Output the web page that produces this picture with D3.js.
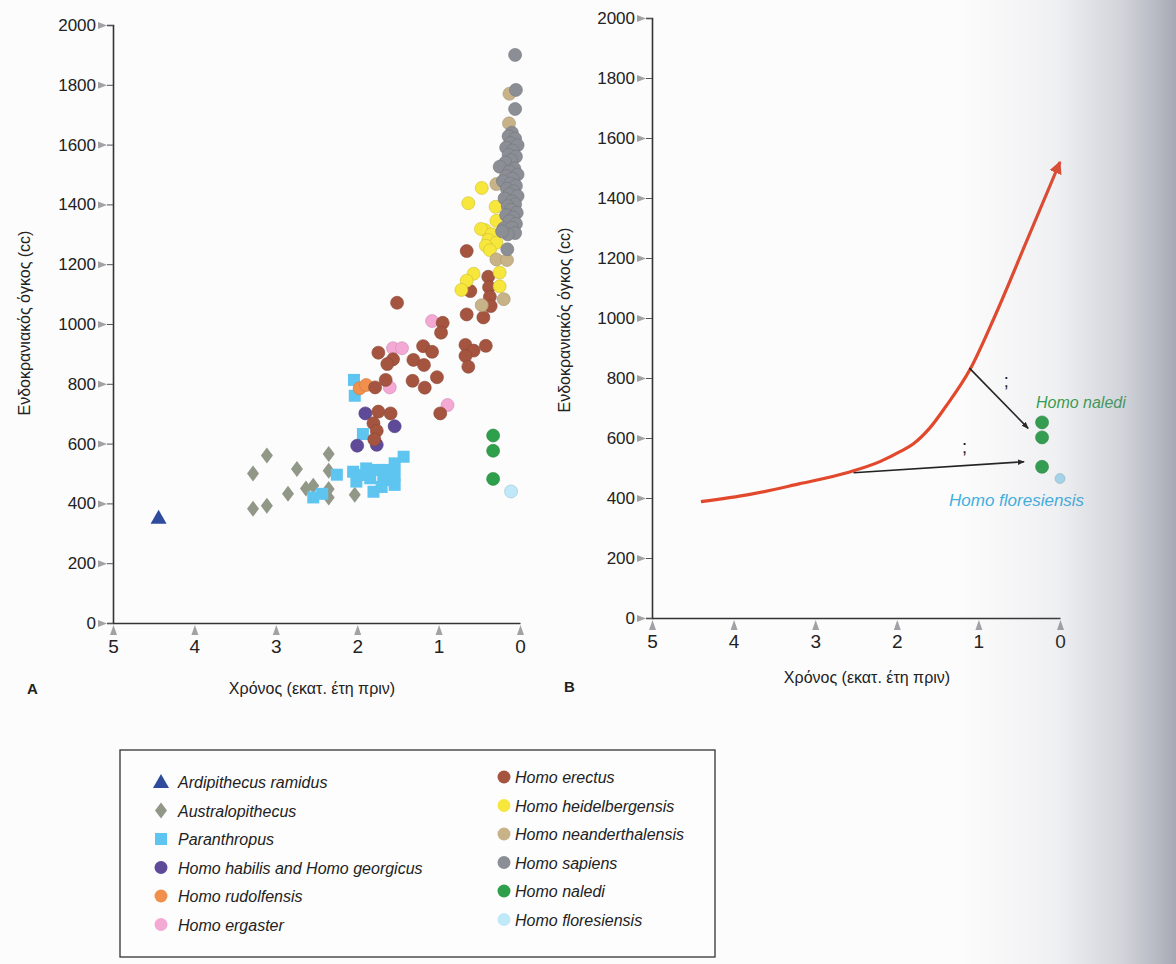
<!DOCTYPE html>
<html>
<head>
<meta charset="utf-8">
<script src="https://cdn.jsdelivr.net/npm/d3@7"></script>
<style>
body { margin: 0; background: #fcfcfc; }
svg { display: block; font-family: "Liberation Sans", Arial, sans-serif; }
</style>
</head>
<body>
<svg id="chart" width="1176" height="964"></svg>
<script>
// data : [million years ago, endocranial volume (cc)]
var ardipithecus = [[4.44, 352]];
var australopithecus = [[3.28, 500], [3.11, 560], [2.74, 515], [2.85, 432], [3.28, 382], [3.11, 392],
	[2.63, 450], [2.54, 459], [2.35, 565], [2.35, 509], [2.35, 448], [2.35, 420], [2.03, 429]];
var paranthropus = [[2.04, 813], [2.03, 760], [1.93, 632], [2.25, 496], [2.54, 420], [2.43, 432],
	[2.05, 506], [1.89, 517], [1.76, 512], [1.64, 512], [2.01, 473], [1.84, 484], [1.68, 478],
	[1.54, 495], [1.54, 462], [1.80, 439], [1.43, 556], [1.54, 534], [1.95, 495], [1.70, 455]];
var habilis = [[1.90, 701], [1.54, 658], [2.00, 593], [1.76, 596]];
var rudolfensis = [[1.97, 785], [1.89, 796]];
var ergaster = [[1.08, 1010], [1.56, 919], [1.45, 919], [1.60, 788], [0.89, 729]];
var erectus = [[0.655, 1244], [0.39, 1158], [0.38, 1123], [0.37, 1091], [0.36, 1060], [0.61, 1110],
	[0.655, 1032], [0.45, 1022], [0.95, 1004], [0.97, 971], [1.51, 1071], [1.74, 904], [1.19, 926],
	[1.08, 907], [1.56, 882], [1.63, 866], [1.31, 880], [1.18, 863], [0.67, 930], [0.57, 911],
	[0.42, 927], [0.67, 893], [0.635, 857], [1.65, 813], [1.78, 788], [1.32, 810], [1.02, 822],
	[1.17, 787], [0.98, 701], [1.74, 707], [1.59, 701], [1.80, 668], [1.76, 643], [1.79, 614]];
var heidelbergensis = [[0.47, 1455], [0.635, 1404], [0.30, 1392], [0.29, 1345], [0.43, 1314],
	[0.48, 1318], [0.35, 1300], [0.39, 1281], [0.29, 1272], [0.42, 1262], [0.37, 1247], [0.57, 1168],
	[0.655, 1145], [0.72, 1114], [0.25, 1172], [0.25, 1126]];
var neanderthalensis = [[0.13, 1770], [0.135, 1671], [0.29, 1468], [0.29, 1216], [0.16, 1214],
	[0.20, 1083], [0.47, 1063]];
var sapiens = [[0.06, 1900], [0.05, 1783], [0.06, 1719], [0.10, 1640], [0.14, 1628], [0.06, 1620],
	[0.12, 1605], [0.03, 1598], [0.17, 1590], [0.09, 1580], [0.14, 1566], [0.05, 1560], [0.11, 1548],
	[0.18, 1540], [0.25, 1526], [0.07, 1520], [0.13, 1510], [0.03, 1500], [0.17, 1495], [0.09, 1486],
	[0.21, 1478], [0.12, 1470], [0.05, 1462], [0.16, 1452], [0.08, 1444], [0.13, 1434], [0.03, 1428],
	[0.19, 1420], [0.10, 1410], [0.06, 1400], [0.15, 1394], [0.11, 1382], [0.04, 1372], [0.17, 1364],
	[0.08, 1356], [0.13, 1344], [0.05, 1335], [0.20, 1320], [0.10, 1322], [0.06, 1304], [0.15, 1300],
	[0.22, 1310], [0.156, 1250]];
var naledi = [[0.33, 627], [0.33, 576], [0.33, 482]];
var floresiensis = [[0.11, 440]];

// panel B
var trendX = [4.4, 3.8, 3.2, 2.6, 2.2, 1.95, 1.8, 1.6, 1.4, 1.1, 0.8, 0.4, 0.0];
var trendY = [388, 412, 447, 485, 522, 556, 580, 632, 705, 830, 1005, 1262, 1520];
var nalediB = [[0.22, 652], [0.22, 602], [0.22, 504]];
var floresiensisB = [[0.0, 465]];

var xTicks = [5, 4, 3, 2, 1, 0];
var yTicks = [0, 200, 400, 600, 800, 1000, 1200, 1400, 1600, 1800, 2000];
var xTitle = 'Χρόνος (εκατ. έτη πριν)';
var yTitle = 'Ενδοκρανιακός όγκος (cc)';

var species = [
	{name: 'Ardipithecus ramidus', data: ardipithecus, shape: 'triangle', color: '#2f4c9c'},
	{name: 'Australopithecus', data: australopithecus, shape: 'diamond', color: '#919887'},
	{name: 'Paranthropus', data: paranthropus, shape: 'square', color: '#5ec4f0'},
	{name: 'Homo habilis and Homo georgicus', data: habilis, shape: 'circle', color: '#5e4a98'},
	{name: 'Homo rudolfensis', data: rudolfensis, shape: 'circle', color: '#f0904c'},
	{name: 'Homo ergaster', data: ergaster, shape: 'circle', color: '#f4a8d4'},
	{name: 'Homo erectus', data: erectus, shape: 'circle', color: '#a5553f'},
	{name: 'Homo heidelbergensis', data: heidelbergensis, shape: 'circle', color: '#f7e63c'},
	{name: 'Homo neanderthalensis', data: neanderthalensis, shape: 'circle', color: '#c8b389'},
	{name: 'Homo sapiens', data: sapiens, shape: 'circle', color: '#8c8e96'},
	{name: 'Homo naledi', data: naledi, shape: 'circle', color: '#2e9f4a'},
	{name: 'Homo floresiensis', data: floresiensis, shape: 'circle', color: '#bfe8f8'}
];

const svg = d3.select('#chart');

var defs = svg.append('defs');
defs.append('marker').attr('id', 'arrow-red')
	.attr('viewBox', '0 0 10 10').attr('refX', 9).attr('refY', 5)
	.attr('markerWidth', 4).attr('markerHeight', 4).attr('orient', 'auto')
	.append('path').attr('d', 'M0,0 L10,5 L0,10 Z').attr('fill', '#e2482c');
defs.append('marker').attr('id', 'arrow-black')
	.attr('viewBox', '0 0 10 10').attr('refX', 9).attr('refY', 5)
	.attr('markerWidth', 7).attr('markerHeight', 7).attr('markerUnits', 'userSpaceOnUse')
	.attr('orient', 'auto')
	.append('path').attr('d', 'M0,1 L10,5 L0,9 Z').attr('fill', '#222');
var shade = defs.append('linearGradient').attr('id', 'shade')
	.attr('gradientUnits', 'userSpaceOnUse').attr('x1', 960).attr('x2', 1176).attr('y1', 0).attr('y2', 0);
shade.append('stop').attr('offset', 0).attr('stop-color', '#7d8296').attr('stop-opacity', 0);
shade.append('stop').attr('offset', 0.45).attr('stop-color', '#7d8296').attr('stop-opacity', 0.1);
shade.append('stop').attr('offset', 0.75).attr('stop-color', '#7d8296').attr('stop-opacity', 0.33);
shade.append('stop').attr('offset', 1).attr('stop-color', '#727789').attr('stop-opacity', 0.62);

// axes with little grey triangle ticks
function drawAxes(x, y, titleX, titleY, letterPos, letter) {
	const yAxis = svg.append('g')
		.attr('transform', `translate(${x.range()[0]}, 0)`)
		.call(d3.axisLeft(y).tickValues(yTicks).tickSize(6).tickPadding(11).tickFormat(d3.format('d')));
	yAxis.select('.domain').attr('stroke', '#333').attr('stroke-width', 1.6);
	yAxis.selectAll('.tick line').attr('stroke', '#555');
	yAxis.selectAll('.tick').append('path')
		.attr('d', 'M-15,-3.5 L-6,0 L-15,3.5 Z').attr('fill', '#a2a2a6');
	yAxis.selectAll('text').attr('font-size', 17).attr('fill', '#222');

	const xAxis = svg.append('g')
		.attr('transform', `translate(0, ${y.range()[0]})`)
		.call(d3.axisBottom(x).tickValues(xTicks).tickSize(0).tickPadding(17).tickFormat(d3.format('d')));
	xAxis.select('.domain').attr('stroke', '#333').attr('stroke-width', 1.6);
	xAxis.selectAll('.tick').append('path')
		.attr('d', 'M-3.5,12 L0,2 L3.5,12 Z').attr('fill', '#a2a2a6');
	xAxis.selectAll('text').attr('font-size', 19).attr('fill', '#222');

	svg.append('text')
		.attr('x', titleX[0]).attr('y', titleX[1])
		.attr('text-anchor', 'middle').attr('font-size', 16).attr('fill', '#222')
		.text(xTitle);
	svg.append('text')
		.attr('transform', `translate(${titleY[0]}, ${titleY[1]}) rotate(-90)`)
		.attr('text-anchor', 'middle').attr('font-size', 16).attr('fill', '#222')
		.text(yTitle);
	svg.append('text')
		.attr('x', letterPos[0]).attr('y', letterPos[1])
		.attr('font-size', 15).attr('font-weight', 'bold').attr('fill', '#222')
		.text(letter);
}

function symbolPath(shape) {
	if (shape == 'triangle') return 'M0,-8 L8,6 L-8,6 Z';
	if (shape == 'diamond') return 'M0,-8 L6,0 L0,8 L-6,0 Z';
	if (shape == 'square') return 'M-6,-6 L6,-6 L6,6 L-6,6 Z';
	return null;
}

function drawMarks(g, data, s, x, y, r) {
	if (s.shape == 'circle') {
		g.selectAll(null).data(data).enter().append('circle')
			.attr('cx', d => x(d[0]))
			.attr('cy', d => y(d[1]))
			.attr('r', r)
			.attr('fill', s.color)
			.attr('stroke', d3.color(s.color).darker(0.5))
			.attr('stroke-width', 0.6);
	} else {
		g.selectAll(null).data(data).enter().append('path')
			.attr('transform', d => `translate(${x(d[0])}, ${y(d[1])})`)
			.attr('d', symbolPath(s.shape))
			.attr('fill', s.color);
	}
}

// ---------- panel A
const xA = d3.scaleLinear().domain([5, 0]).range([113, 520]);
const yA = d3.scaleLinear().domain([0, 2000]).range([623, 25]);
drawAxes(xA, yA, [312, 694], [30, 323], [27, 694], 'A');

var plotA = svg.append('g');
species.forEach((s) => {
	drawMarks(plotA, s.data, s, xA, yA, 6.5);
});

// ---------- panel B
const xB = d3.scaleLinear().domain([5, 0]).range([652, 1060]);
const yB = d3.scaleLinear().domain([0, 2000]).range([618, 18]);
drawAxes(xB, yB, [867, 683], [570, 320], [564, 692], 'B');

const trend = trendX.map((d, i) => [d, trendY[i]]);
svg.append('path')
	.datum(trend)
	.attr('d', d3.line().x(d => xB(d[0])).y(d => yB(d[1])).curve(d3.curveMonotoneX))
	.attr('fill', 'none')
	.attr('stroke', '#e2482c')
	.attr('stroke-width', 3.2)
	.attr('marker-end', 'url(#arrow-red)');

// question arrows towards naledi / floresiensis
var arrows = [[[1.11, 833], [0.39, 632]], [[2.53, 484], [0.44, 521]]];
svg.selectAll(null).data(arrows).enter().append('line')
	.attr('x1', d => xB(d[0][0])).attr('y1', d => yB(d[0][1]))
	.attr('x2', d => xB(d[1][0])).attr('y2', d => yB(d[1][1]))
	.attr('stroke', '#222').attr('stroke-width', 1.6)
	.attr('marker-end', 'url(#arrow-black)');
var questions = [[0.69, 770], [1.2, 550]];
svg.selectAll(null).data(questions).enter().append('text')
	.attr('x', d => xB(d[0])).attr('y', d => yB(d[1]))
	.attr('font-size', 18).attr('fill', '#111')
	.text(';');

drawMarks(svg.append('g'), nalediB, species[10], xB, yB, 6.5);
drawMarks(svg.append('g'), floresiensisB, {shape: 'circle', color: '#a9dcf2'}, xB, yB, 5);

svg.append('text')
	.attr('x', xB(0.295)).attr('y', yB(700))
	.attr('font-size', 16).attr('font-style', 'italic').attr('fill', '#2e9f4a')
	.text('Homo naledi');
svg.append('text')
	.attr('x', xB(1.36)).attr('y', yB(375))
	.attr('font-size', 17).attr('font-style', 'italic').attr('fill', '#3fb0e2')
	.text('Homo floresiensis');

// ---------- legend
var legend = svg.append('g');
legend.append('rect')
	.attr('x', 120).attr('y', 750).attr('width', 595).attr('height', 207)
	.attr('fill', '#fdfdfd').attr('stroke', '#333').attr('stroke-width', 1.3);

species.forEach((s, i) => {
	const col = i < 6 ? 0 : 1;
	const row = i % 6;
	const cx = col == 0 ? 161 : 504;
	const cy = (col == 0 ? 782 : 777) + row * 28.5;
	const item = legend.append('g').attr('transform', `translate(${cx}, ${cy})`);
	if (s.shape == 'circle') {
		item.append('circle').attr('r', 6.5).attr('fill', s.color);
	} else {
		item.append('path').attr('d', symbolPath(s.shape)).attr('fill', s.color);
	}
	item.append('text')
		.attr('x', col == 0 ? 17 : 11).attr('y', 6)
		.attr('font-size', 16).attr('font-style', 'italic').attr('fill', '#222')
		.text(s.name);
});

// page curl shadow on the right of the photo
svg.append('rect')
	.attr('x', 960).attr('y', 0).attr('width', 216).attr('height', 964)
	.attr('fill', 'url(#shade)');
</script>
</body>
</html>
